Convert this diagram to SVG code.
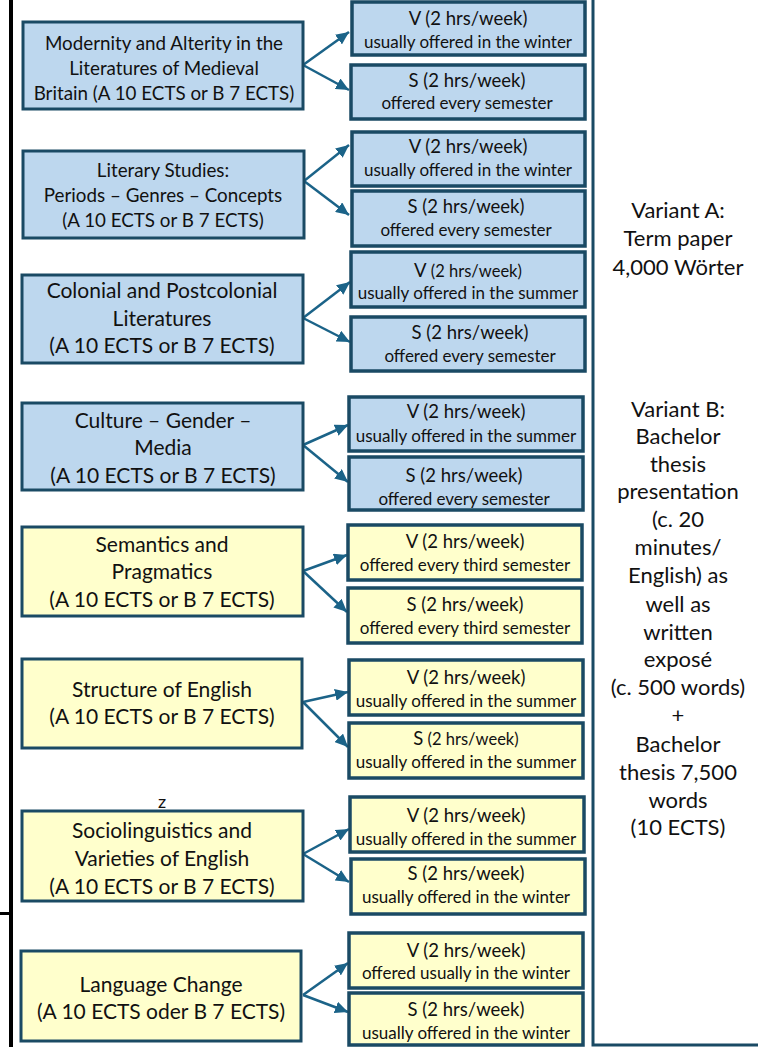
<svg xmlns="http://www.w3.org/2000/svg" width="758" height="1047" viewBox="0 0 758 1047">
<style>
.blue{fill:#bdd7ee;stroke:#1a4a64;stroke-width:3}
.yel{fill:#ffffcc;stroke:#1a4a64;stroke-width:3}
.rb{stroke-width:3.5}
text{font-family:Lato,"Liberation Sans",sans-serif;fill:#111;text-anchor:middle}
.l1{font-size:18.8px}
.l2{font-size:21px}
.t1{font-size:18.5px}
.t2{font-size:17px}
.sm{font-size:16.5px}
.col{font-size:22px}
.arr{stroke:#1b6388;stroke-width:2.5;fill:none;marker-end:url(#ah)}
</style>
<defs>
<marker id="ah" markerUnits="userSpaceOnUse" markerWidth="14" markerHeight="12" refX="13" refY="6" orient="auto">
<path d="M0,0 L13,6 L0,12 Z" fill="#1b6388"/>
</marker>
</defs>
<rect width="758" height="1047" fill="#fff"/>
<g id="frame">
<rect x="9" y="0" width="4" height="1047" fill="#000"/>
<rect x="0" y="912" width="12" height="3" fill="#000"/>
<path d="M593,0 V1045 H758" fill="none" stroke="#1a4a64" stroke-width="3"/>
</g>
<g id="connectors">
<path class="arr" d="M303,65 L349,32"/>
<path class="arr" d="M303,65 L349,90"/>
<path class="arr" d="M304,181 L349,145"/>
<path class="arr" d="M304,181 L349,215"/>
<path class="arr" d="M303,318 L350,282"/>
<path class="arr" d="M303,318 L350,342"/>
<path class="arr" d="M303,445 L348,425"/>
<path class="arr" d="M303,445 L348,482"/>
<path class="arr" d="M303,571 L347,555"/>
<path class="arr" d="M303,571 L347,612"/>
<path class="arr" d="M303,702 L348,692"/>
<path class="arr" d="M303,702 L348,747"/>
<path class="arr" d="M303,854 L349,829"/>
<path class="arr" d="M303,854 L349,882"/>
<path class="arr" d="M303,995 L348,963"/>
<path class="arr" d="M303,995 L348,1012"/>
</g>
<g id="m1"><rect class="blue" x="23" y="22" width="280" height="87"/>
<text class="l1" x="164" y="50">Modernity and Alterity in the</text>
<text class="l1" x="164" y="75">Literatures of Medieval</text>
<text class="l1" x="164" y="100">Britain (A 10 ECTS or B 7 ECTS)</text></g>
<g id="m2"><rect class="blue" x="23" y="151" width="281" height="87"/>
<text class="l1" x="163" y="177">Literary Studies:</text>
<text class="l1" x="163" y="202">Periods – Genres – Concepts</text>
<text class="l1" x="163" y="227">(A 10 ECTS or B 7 ECTS)</text></g>
<g id="m3"><rect class="blue" x="22" y="275" width="281" height="88"/>
<text class="l2" x="162" y="298">Colonial and Postcolonial</text>
<text class="l2" x="162" y="326">Literatures</text>
<text class="l2" x="162" y="353">(A 10 ECTS or B 7 ECTS)</text></g>
<g id="m4"><rect class="blue" x="22" y="403" width="281" height="87"/>
<text class="l2" x="163" y="428">Culture – Gender –</text>
<text class="l2" x="163" y="455">Media</text>
<text class="l2" x="163" y="483">(A 10 ECTS or B 7 ECTS)</text></g>
<g id="m5"><rect class="yel" x="22" y="527" width="281" height="89"/>
<text class="l2" x="162" y="552">Semantics and</text>
<text class="l2" x="162" y="579">Pragmatics</text>
<text class="l2" x="162" y="607">(A 10 ECTS or B 7 ECTS)</text></g>
<g id="m6"><rect class="yel" x="22" y="659" width="280" height="89"/>
<text class="l2" x="162" y="697">Structure of English</text>
<text class="l2" x="162" y="724">(A 10 ECTS or B 7 ECTS)</text></g>
<g id="m7"><rect class="yel" x="22" y="811" width="281" height="90"/>
<text x="162" y="808" style="font-size:18px">z</text>
<text class="l2" x="162" y="838">Sociolinguistics and</text>
<text class="l2" x="162" y="866">Varieties of English</text>
<text class="l2" x="162" y="894">(A 10 ECTS or B 7 ECTS)</text></g>
<g id="m8"><rect class="yel" x="21" y="951" width="280" height="90"/>
<text class="l2" x="161" y="992">Language Change</text>
<text class="l2" x="161" y="1019">(A 10 ECTS oder B 7 ECTS)</text></g>
<g id="v1"><rect class="blue rb" x="352" y="2" width="233" height="53"/>
<text class="t1" x="468" y="25">V (2 hrs/week)</text>
<text class="t2" x="468" y="48">usually offered in the winter</text></g>
<g id="s1"><rect class="blue rb" x="351" y="65" width="234" height="54"/>
<text class="t1" x="467" y="87">S (2 hrs/week)</text>
<text class="t2" x="467" y="109">offered every semester</text></g>
<g id="v2"><rect class="blue rb" x="352" y="132" width="233" height="54"/>
<text class="t1" x="468" y="153">V (2 hrs/week)</text>
<text class="t2" x="468" y="176">usually offered in the winter</text></g>
<g id="s2"><rect class="blue rb" x="352" y="191" width="233" height="55"/>
<text class="t1" x="466" y="213">S (2 hrs/week)</text>
<text class="t2" x="466" y="236">offered every semester</text></g>
<g id="v3"><rect class="blue rb" x="351" y="252" width="234" height="55"/>
<text class="t1" x="468" y="277"><tspan>V</tspan><tspan class="sm"> (2 hrs/week)</tspan></text>
<text class="t2" x="468" y="299">usually offered in the summer</text></g>
<g id="s3"><rect class="blue rb" x="351" y="317" width="234" height="54"/>
<text class="t1" x="470" y="339">S (2 hrs/week)</text>
<text class="t2" x="470" y="362">offered every semester</text></g>
<g id="v4"><rect class="blue rb" x="349" y="397" width="234" height="54"/>
<text class="t1" x="466" y="418">V (2 hrs/week)</text>
<text class="t2" x="466" y="442">usually offered in the summer</text></g>
<g id="s4"><rect class="blue rb" x="349" y="457" width="234" height="53"/>
<text class="t1" x="464" y="482">S (2 hrs/week)</text>
<text class="t2" x="464" y="505">offered every semester</text></g>
<g id="v5"><rect class="yel rb" x="348" y="525" width="234" height="55"/>
<text class="t1" x="465" y="548">V (2 hrs/week)</text>
<text class="t2" x="465" y="571">offered every third semester</text></g>
<g id="s5"><rect class="yel rb" x="348" y="588" width="234" height="55"/>
<text class="t1" x="465" y="611">S (2 hrs/week)</text>
<text class="t2" x="465" y="634">offered every third semester</text></g>
<g id="v6"><rect class="yel rb" x="349" y="660" width="234" height="55"/>
<text class="t1" x="466" y="684">V (2 hrs/week)</text>
<text class="t2" x="466" y="707">usually offered in the summer</text></g>
<g id="s6"><rect class="yel rb" x="349" y="723" width="234" height="55"/>
<text class="t1" x="466" y="745"><tspan>S</tspan><tspan class="sm"> (2 hrs/week)</tspan></text>
<text class="t2" x="466" y="768">usually offered in the summer</text></g>
<g id="v7"><rect class="yel rb" x="350" y="797" width="234" height="55"/>
<text class="t1" x="466" y="822">V (2 hrs/week)</text>
<text class="t2" x="466" y="845">usually offered in the summer</text></g>
<g id="s7"><rect class="yel rb" x="351" y="859" width="234" height="55"/>
<text class="t1" x="466" y="880">S (2 hrs/week)</text>
<text class="t2" x="466" y="903">usually offered in the winter</text></g>
<g id="v8"><rect class="yel rb" x="349" y="933" width="234" height="55"/>
<text class="t1" x="466" y="957">V (2 hrs/week)</text>
<text class="t2" x="466" y="979">offered usually in the winter</text></g>
<g id="s8"><rect class="yel rb" x="349" y="993" width="234" height="52"/>
<text class="t1" x="466" y="1016">S (2 hrs/week)</text>
<text class="t2" x="466" y="1039">usually offered in the winter</text></g>
<g id="assessment">
<text class="col" x="678" y="218">Variant A:</text>
<text class="col" x="678" y="246">Term paper</text>
<text class="col" x="678" y="275">4,000 Wörter</text>
<text class="col" x="678" y="417">Variant B:</text>
<text class="col" x="678" y="444">Bachelor</text>
<text class="col" x="678" y="472">thesis</text>
<text class="col" x="678" y="499">presentation</text>
<text class="col" x="678" y="527">(c. 20</text>
<text class="col" x="678" y="555">minutes/</text>
<text class="col" x="678" y="583">English) as</text>
<text class="col" x="678" y="612">well as</text>
<text class="col" x="678" y="640">written</text>
<text class="col" x="678" y="667">exposé</text>
<text class="col" x="678" y="695">(c. 500 words)</text>
<text class="col" x="678" y="723">+</text>
<text class="col" x="678" y="752">Bachelor</text>
<text class="col" x="678" y="780">thesis 7,500</text>
<text class="col" x="678" y="808">words</text>
<text class="col" x="678" y="835">(10 ECTS)</text>
</g>
</svg>
